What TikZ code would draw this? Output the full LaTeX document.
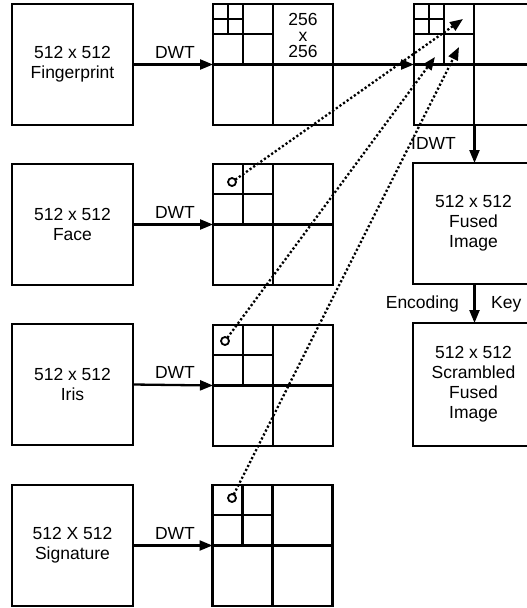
\documentclass[tikz,border=0pt]{standalone}
\usepackage{fontspec}
\setmainfont{Liberation Sans}
\usetikzlibrary{arrows.meta,calc}
\newcommand\gridlines[1]{%
  \begin{scope}[shift={(#1.north west)}]
    \draw[gl] (60,0) -- (60,121);
    \draw[gl] (0,60.5) -- (120,60.5);
    \draw[gl] (30,0) -- (30,60.5);
    \draw[gl] (0,30) -- (60,30);
  \end{scope}}
\newcommand\finelines[1]{%
  \begin{scope}[shift={(#1.north west)}]
    \draw[gl] (15,0) -- (15,30);
    \draw[gl] (0,15) -- (30,15);
  \end{scope}}
\begin{document}
\begin{tikzpicture}[x=1pt,y=-1pt,
  txt/.style={font=\fontsize{17.5}{20}\selectfont},
  box/.style={draw,line width=2.3pt,minimum width=121pt,minimum height=121pt,
    inner sep=0pt,outer sep=0pt,align=center,txt},
  grid/.style={draw,line width=2.3pt,minimum width=120pt,minimum height=121pt,
    inner sep=0pt,outer sep=0pt},
  gl/.style={line width=2.3pt},
  arr/.style={line width=2.3pt,-{Triangle[length=13pt,width=10pt]}},
  dots/.style={line width=2.3pt,line cap=butt,dash pattern=on 2.2pt off 2.2pt,
    -{Triangle[length=13pt,width=10pt]}},
  lbl/.style={txt,inner sep=0pt},
  ring/.style={circle,draw,line width=1.8pt,minimum size=8pt,inner sep=0pt,outer sep=0pt}
]
\useasboundingbox (0,0) rectangle (527,608);
\clip (0,0) rectangle (527,608);

% left boxes
\node[box] (b1) at (72.5,64.5) {512 x 512\\Fingerprint};
\node[box] (b2) at (72.5,224.5) {512 x 512\\Face};
\node[box] (b3) at (72.5,384.5) {512 x 512\\Iris};
\node[box] (b4) at (72.5,545.5) {512 X 512\\Signature};

% grids
\node[grid] (g1) at (273,64.5) {};
\node[grid] (g2) at (273,224.5) {};
\node[grid] (g3) at (273,385.5) {};
\node[grid] (g4) at (272.5,545.5) {};
\node[grid,minimum width=121pt] (g5) at (474.5,64.5) {};
\gridlines{g1}\finelines{g1}
\gridlines{g2}
\gridlines{g3}
\gridlines{g4}
\gridlines{g5}\finelines{g5}

\node[lbl,align=center,font=\fontsize{17.5}{16}\selectfont] (sz) at (303,35) {256\\x\\256};

% right boxes
\node[box] (fu) at (473.5,223.5) {512 x 512\\Fused\\Image};
\node[box,minimum height=123pt] (sc) at (473.5,384.5) {512 x 512\\Scrambled\\Fused\\Image};

% DWT arrows
\draw[arr] (b1.east) -- (g1.west);
\draw[arr] (b2.east) -- (g2.west);
\draw[arr] (b3.east) -- (g3.west);
\draw[arr] (b4.east) -- (g4.west);
\node[lbl,anchor=base] (d1) at (175,58) {DWT};
\node[lbl,anchor=base] (d2) at (175,218) {DWT};
\node[lbl,anchor=base] (d3) at (175,378) {DWT};
\node[lbl,anchor=base] (d4) at (175,539) {DWT};

\draw[arr] (g1.east) -- (g5.west);
\draw[arr] (g5.south) -- (g5.south |- fu.north);
\draw[arr] (fu.south -| g5.south) -- (g5.south |- sc.north);
\node[lbl,anchor=base] (idwt) at (433.5,149) {IDWT};
\node[lbl,anchor=base east] (enc) at (459,308) {Encoding};
\node[lbl,anchor=base west] (key) at (491,308) {Key};

% marks and dotted arrows
\node[ring] (c2) at (232,182) {};
\node[ring] (c3) at (225,341) {};
\node[ring] (c4) at (232,498) {};
\coordinate (t2) at (463,19);
\coordinate (t3) at (435,57);
\coordinate (t4) at (459,47);
\draw[dots] (c2) -- (t2);
\draw[dots] (c3) -- (t3);
\draw[dots] (c4) -- (t4);
\end{tikzpicture}
\end{document}
